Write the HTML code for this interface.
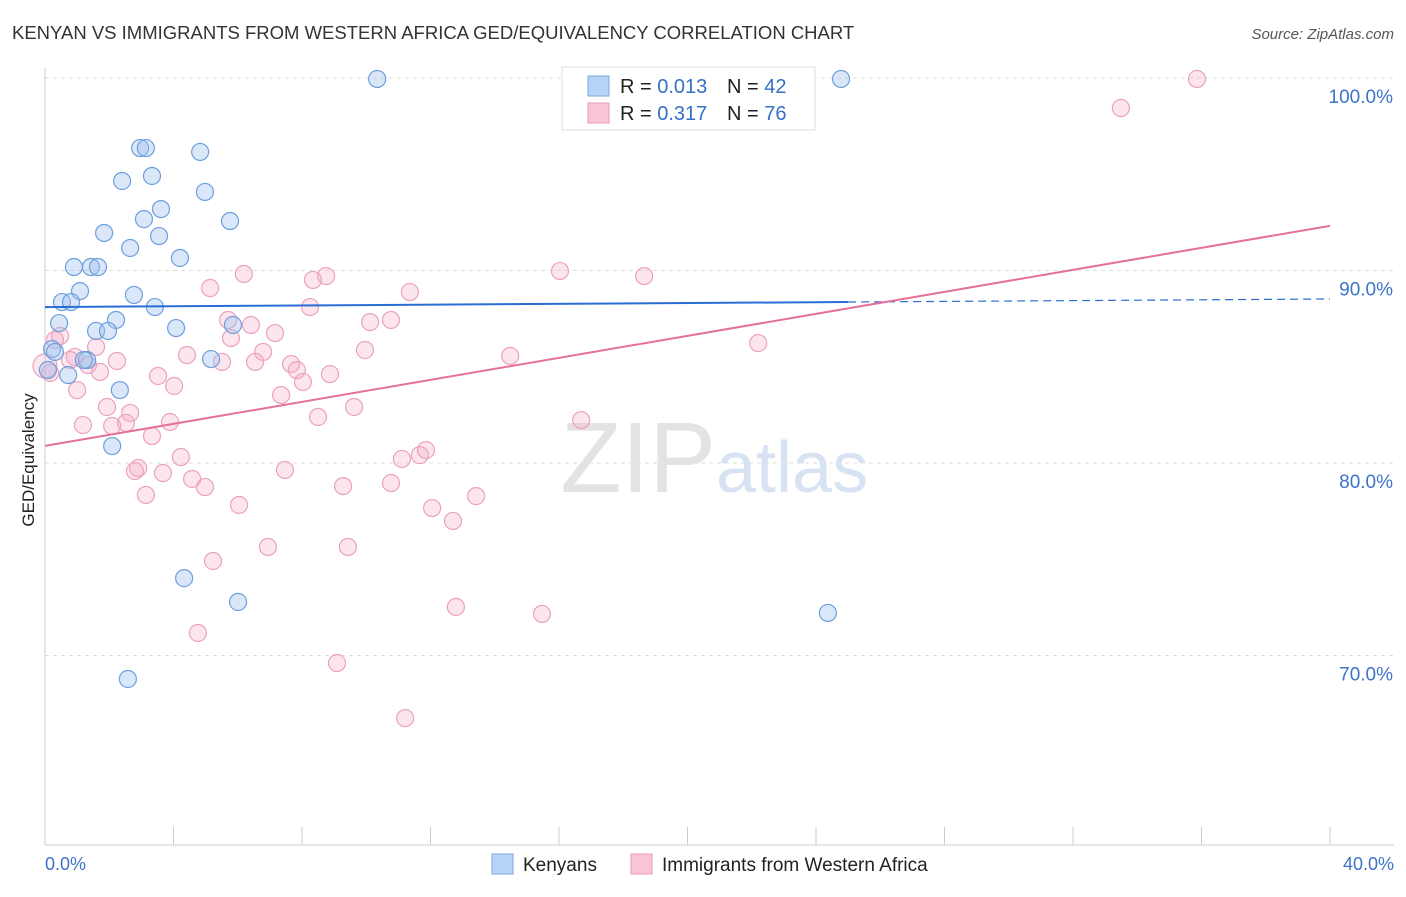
<!DOCTYPE html>
<html><head><meta charset="utf-8"><style>
body{margin:0;background:#fff;font-family:"Liberation Sans",sans-serif;}
svg text{font-family:"Liberation Sans",sans-serif;}
</style></head><body>
<svg id="chart" width="1406" height="892">
<text x="12" y="39" font-size="18.5" fill="#333">KENYAN VS IMMIGRANTS FROM WESTERN AFRICA GED/EQUIVALENCY CORRELATION CHART</text>
<text x="1394" y="39" font-size="15" fill="#555" font-style="italic" text-anchor="end">Source: ZipAtlas.com</text>
<text x="34" y="460" font-size="17" fill="#222" text-anchor="middle" transform="rotate(-90 34 460)">GED/Equivalency</text>
<g id="grid"></g>
<text x="716" y="492" font-size="100" fill="#e3e3e3" text-anchor="end" font-family="Liberation Serif">ZIP</text>
<text x="716" y="492" font-size="72" fill="#d7e3f3">atlas</text>
<g id="points"></g>
<g id="lines"></g>
<g>
<rect x="562" y="67" width="253" height="63" fill="#fff" stroke="#ddd"/>
<rect x="588" y="76" width="21" height="20" fill="#b7d3f5" stroke="#7aa8e0"/>
<rect x="588" y="103" width="21" height="20" fill="#f9c6d6" stroke="#eb9ab5"/>
<text x="620" y="93" font-size="20" fill="#222">R = <tspan fill="#3570c8">0.013</tspan></text>
<text x="727" y="93" font-size="20" fill="#222">N = <tspan fill="#3570c8">42</tspan></text>
<text x="620" y="120" font-size="20" fill="#222">R = <tspan fill="#3570c8"> 0.317</tspan></text>
<text x="727" y="120" font-size="20" fill="#222">N = <tspan fill="#3570c8">76</tspan></text>
</g>
<g>
<rect x="492" y="854" width="21" height="20" fill="#b7d3f5" stroke="#7aa8e0"/>
<text x="523" y="871" font-size="19" fill="#222">Kenyans</text>
<rect x="631" y="854" width="21" height="20" fill="#f9c6d6" stroke="#eb9ab5"/>
<text x="662" y="871" font-size="19" fill="#222">Immigrants from Western Africa</text>
</g>
</svg>
<script>
const yTicks=[100,90,80,70];
const yTickLabels=["100.0%","90.0%","80.0%","70.0%"];
const xTicks=[0,4,8,12,16,20,24,28,32,36,40];
const xTickLabels=["0.0%","40.0%"];
const kenyanX=[10.34,24.78,2.96,3.14,4.83,3.33,2.40,4.98,3.61,3.08,5.76,1.84,2.65,3.55,4.20,0.90,1.43,1.65,1.09,2.77,0.53,0.81,3.42,2.21,0.44,1.59,1.96,4.08,5.85,0.22,0.31,5.17,1.31,1.21,0.72,2.33,2.09,4.33,6.01,24.37,2.58,0.09];
const kenyanY=[99.95,99.95,96.36,96.36,96.16,94.91,94.65,94.08,93.19,92.67,92.57,91.95,91.17,91.79,90.65,90.18,90.18,90.18,88.93,88.73,88.36,88.36,88.10,87.43,87.27,86.86,86.86,87.01,87.17,85.92,85.77,85.40,85.35,85.35,84.57,83.79,80.88,74.02,72.78,72.21,68.78,84.83];
const immX=[35.86,33.49,16.03,18.65,6.19,8.75,8.34,5.14,11.36,8.25,10.77,10.12,5.70,6.41,7.16,5.79,0.47,1.59,22.20,9.96,6.79,4.42,2.24,5.51,14.48,6.54,7.66,7.84,8.87,8.03,1.34,0.93,0.78,0.31,3.52,4.02,7.35,1.00,9.62,8.50,1.93,2.65,16.69,3.89,1.18,2.52,2.09,3.33,11.67,11.86,11.11,4.23,2.90,2.80,3.67,4.58,7.47,9.28,10.77,4.98,3.14,13.42,12.05,6.04,12.70,6.94,9.43,5.23,12.79,15.47,4.76,9.09,11.21,0.16,0.00,1.71];
const immY=[99.95,98.44,89.97,89.71,89.82,89.71,89.51,89.09,88.88,88.10,87.43,87.32,87.43,87.17,86.75,86.49,86.60,86.03,86.23,85.87,85.77,85.61,85.30,85.25,85.56,85.25,85.14,84.83,84.62,84.21,85.09,85.51,85.35,86.39,84.52,84.00,83.53,83.79,82.91,82.39,82.91,82.60,82.23,82.13,81.97,82.08,81.92,81.40,80.41,80.67,80.21,80.31,79.74,79.58,79.48,79.17,79.64,78.80,78.96,78.75,78.34,78.28,77.66,77.82,76.99,75.64,75.64,74.91,72.52,72.16,71.17,69.61,66.75,84.68,85.04,84.73];
const kenyanTrend=[88.10,88.52];
const immTrend=[80.89,92.32];

const X=v=>45+v/40*1285;
const Y=v=>78+(100-v)*19.25;
const NS="http://www.w3.org/2000/svg";
function mk(tag,attrs,parent){const e=document.createElementNS(NS,tag);for(const k in attrs)e.setAttribute(k,attrs[k]);parent.appendChild(e);return e;}
const grid=document.getElementById('grid');
yTicks.forEach((t,i)=>{
  const l=mk('line',{x1:45,x2:1394,y1:Y(t),y2:Y(t),stroke:'#ddd','stroke-dasharray':'4,4'},grid);
  
  
  const tx=mk('text',{x:1393,y:Y(t)+25,'font-size':19,fill:'#3d73c8','text-anchor':'end'},grid);
  tx.textContent=yTickLabels[i];
  
  
});
const ax=mk('line',{x1:45,x2:45,y1:68,y2:845,stroke:'#ccc'},grid);


const bx=mk('line',{x1:45,x2:1394,y1:845,y2:845,stroke:'#ccc'},grid);


xTicks.forEach(t=>{
  const l=mk('line',{x1:X(t),x2:X(t),y1:827,y2:845,stroke:'#ccc'},grid);
  
  
});
[[0,'start',45],[40,'end',1394]].forEach((a,i)=>{
  const tx=mk('text',{x:a[2],y:870,'font-size':18,fill:'#3d73c8','text-anchor':a[1]},grid);
  tx.textContent=xTickLabels[i];
  
  
});
const pts=document.getElementById('points');
immX.forEach((x,i)=>{
  const c=mk('circle',{cx:X(x),cy:Y(immY[i]),r:(x===0?12:8.5),fill:'rgba(246,170,198,0.3)',stroke:'#eba2bd','stroke-width':1.2},pts);
  
  
});
kenyanX.forEach((x,i)=>{
  const c=mk('circle',{cx:X(x),cy:Y(kenyanY[i]),r:8.5,fill:'rgba(160,196,240,0.4)',stroke:'#6f9fdc','stroke-width':1.2},pts);
  
  
});
const lines=document.getElementById('lines');
const kAt=x=>kenyanTrend[0]+(kenyanTrend[1]-kenyanTrend[0])*x/40;
const l1=mk('line',{x1:X(0),y1:Y(kAt(0)),x2:X(25),y2:Y(kAt(25)),stroke:'#2a6dd4','stroke-width':2},lines);


const l2=mk('line',{x1:X(25),y1:Y(kAt(25)),x2:X(40),y2:Y(kAt(40)),stroke:'#2a6dd4','stroke-width':1.2,'stroke-dasharray':'8,5'},lines);


const l3=mk('line',{x1:X(0),y1:Y(immTrend[0]),x2:X(40),y2:Y(immTrend[1]),stroke:'#e5709a','stroke-width':2},lines);


</script>
</body></html>
